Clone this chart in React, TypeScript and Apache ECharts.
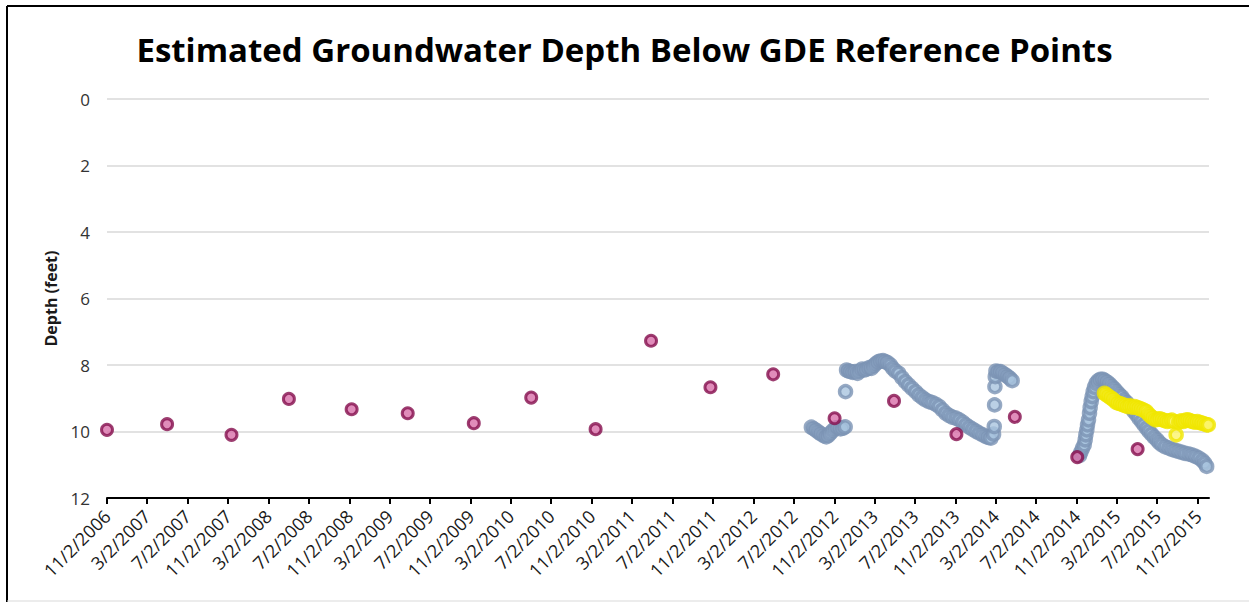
import React, { useEffect, useRef } from "react";
import * as echarts from "echarts";

const titleText = "Estimated Groundwater Depth Below GDE Reference Points";
const yAxisName = "Depth (feet)";

const tickLabels = [
  "11/2/2006", "3/2/2007", "7/2/2007", "11/2/2007", "3/2/2008", "7/2/2008", "11/2/2008",
  "3/2/2009", "7/2/2009", "11/2/2009", "3/2/2010", "7/2/2010", "11/2/2010",
  "3/2/2011", "7/2/2011", "11/2/2011", "3/2/2012", "7/2/2012", "11/2/2012",
  "3/2/2013", "7/2/2013", "11/2/2013", "3/2/2014", "7/2/2014", "11/2/2014",
  "3/2/2015", "7/2/2015", "11/2/2015",
];
const axisStart = "11/2/2006";
const axisEnd = "12/5/2015";

// Semi-annual manual measurements (magenta)
const sampleDates = [
  "11/2/2006", "5/2/2007", "11/12/2007", "5/3/2008", "11/8/2008", "4/26/2009",
  "11/11/2009", "5/3/2010", "11/13/2010", "4/29/2011", "10/25/2011", "5/1/2012",
  "11/2/2012", "4/30/2013", "11/4/2013", "4/29/2014", "11/3/2014", "5/4/2015",
];
const sampleDepths = [
  9.95, 9.78, 10.1, 9.02, 9.33, 9.45,
  9.75, 8.98, 9.93, 7.27, 8.67, 8.28,
  9.6, 9.08, 10.08, 9.56, 10.77, 10.53,
];

// Logger readings (blue-grey)
const loggerDates = [
  "8/24/2012", "9/1/2012", "9/8/2012", "9/16/2012", "9/23/2012", "10/1/2012", "10/8/2012",
  "10/14/2012", "10/20/2012", "10/28/2012", "11/5/2012", "11/12/2012", "11/20/2012",
  "11/27/2012", "12/4/2012", "12/5/2012",
  "12/8/2012", "12/14/2012", "12/20/2012", "12/27/2012", "1/3/2013", "1/10/2013",
  "1/17/2013", "1/24/2013", "1/31/2013", "2/7/2013", "2/14/2013", "2/21/2013",
  "2/28/2013", "3/7/2013", "3/14/2013", "3/21/2013", "3/28/2013", "4/4/2013",
  "4/11/2013", "4/19/2013", "4/26/2013", "5/4/2013", "5/14/2013", "5/24/2013",
  "6/3/2013", "6/13/2013", "6/23/2013", "7/4/2013", "7/14/2013", "7/24/2013",
  "8/3/2013", "8/13/2013", "8/23/2013", "9/3/2013", "9/13/2013", "9/23/2013",
  "10/3/2013", "10/13/2013", "10/23/2013", "11/3/2013", "11/13/2013", "11/23/2013",
  "12/3/2013", "12/13/2013", "12/23/2013", "1/2/2014", "1/12/2014", "1/22/2014",
  "2/1/2014", "2/9/2014", "2/16/2014", "2/24/2014", "2/26/2014", "2/27/2014",
  "2/28/2014", "3/1/2014", "3/3/2014", "3/10/2014", "3/17/2014", "3/24/2014",
  "4/1/2014", "4/8/2014", "4/14/2014", "4/21/2014",
  "11/10/2014", "11/14/2014", "11/19/2014", "11/24/2014", "11/27/2014", "11/29/2014",
  "12/2/2014", "12/4/2014", "12/7/2014", "12/10/2014", "12/12/2014", "12/15/2014",
  "12/18/2014", "12/21/2014", "12/25/2014", "12/30/2014", "1/5/2015", "1/12/2015",
  "1/19/2015", "1/26/2015", "2/2/2015", "2/9/2015", "2/16/2015", "2/23/2015",
  "3/2/2015", "3/9/2015", "3/17/2015", "3/24/2015", "4/1/2015", "4/8/2015",
  "4/16/2015", "4/23/2015", "5/1/2015", "5/8/2015", "5/16/2015", "5/23/2015",
  "5/31/2015", "6/7/2015", "6/15/2015", "6/23/2015", "7/1/2015", "7/8/2015",
  "7/16/2015", "7/26/2015", "8/6/2015", "8/16/2015", "8/26/2015", "9/5/2015",
  "9/15/2015", "9/25/2015", "10/6/2015", "10/16/2015", "10/26/2015", "11/5/2015",
  "11/15/2015", "11/22/2015", "11/28/2015",
];
const loggerDepths = [
  9.87, 9.92, 9.97, 10.03, 10.08, 10.13, 10.16,
  10.12, 10.05, 9.97, 9.9, 9.88, 9.92,
  9.9, 9.86, 8.8,
  8.15, 8.18, 8.2, 8.22, 8.2, 8.25,
  8.18, 8.12, 8.15, 8.12, 8.08, 8.1,
  8.02, 7.95, 7.9, 7.88, 7.87, 7.9,
  7.93, 8.0, 8.1, 8.18, 8.25, 8.38,
  8.5, 8.6, 8.7, 8.8, 8.9, 8.98,
  9.05, 9.1, 9.13, 9.18, 9.25, 9.35,
  9.45, 9.52, 9.57, 9.6, 9.65, 9.72,
  9.8, 9.87, 9.93, 9.99, 10.05, 10.1,
  10.15, 10.18, 10.2, 10.08, 9.85, 9.2,
  8.65, 8.35, 8.18, 8.2, 8.2, 8.25,
  8.3, 8.35, 8.4, 8.47,
  10.72, 10.62, 10.5, 10.4, 10.25, 10.1,
  9.95, 9.8, 9.65, 9.45, 9.28, 9.1,
  8.95, 8.8, 8.67, 8.55, 8.47, 8.43,
  8.43, 8.47, 8.52, 8.58, 8.65, 8.72,
  8.8, 8.88, 8.95, 9.05, 9.13, 9.22,
  9.3, 9.4, 9.5, 9.6, 9.7, 9.8,
  9.9, 9.99, 10.08, 10.17, 10.25, 10.33,
  10.4, 10.46, 10.5, 10.54, 10.57, 10.6,
  10.63, 10.66, 10.68, 10.71, 10.75, 10.8,
  10.87, 10.95, 11.05,
];

// Second logger (yellow)
const yellowDates = [
  "1/24/2015", "1/31/2015", "2/7/2015", "2/14/2015", "2/21/2015", "2/28/2015",
  "3/7/2015", "3/14/2015", "3/21/2015", "3/28/2015", "4/4/2015", "4/11/2015",
  "4/18/2015", "4/25/2015", "5/2/2015", "5/9/2015", "5/16/2015", "5/23/2015",
  "5/30/2015", "6/6/2015", "6/13/2015", "6/20/2015", "6/27/2015", "7/4/2015",
  "7/11/2015", "7/18/2015", "7/25/2015", "8/1/2015", "8/8/2015", "8/15/2015",
  "8/22/2015", "8/28/2015", "9/5/2015", "9/12/2015", "9/19/2015", "9/26/2015",
  "10/3/2015", "10/10/2015", "10/17/2015", "10/24/2015", "10/31/2015", "11/7/2015",
  "11/14/2015", "11/21/2015", "11/28/2015", "12/3/2015",
];
const yellowDepths = [
  8.85, 8.9, 8.95, 9.0, 9.05, 9.12,
  9.15, 9.17, 9.2, 9.22, 9.25, 9.23,
  9.27, 9.25, 9.28, 9.3, 9.33, 9.36,
  9.4, 9.48, 9.55, 9.6, 9.65, 9.63,
  9.62, 9.65, 9.67, 9.7, 9.68, 9.66,
  9.7, 10.1, 9.72, 9.68, 9.7, 9.66,
  9.65, 9.68, 9.7, 9.72, 9.7, 9.73,
  9.75, 9.77, 9.8, 9.8,
];

function toTime(s: string): number {
  const [m, d, y] = s.split("/").map(Number);
  return Date.UTC(y, m - 1, d);
}
function fmt(v: number): string {
  const d = new Date(v);
  return `${d.getUTCMonth() + 1}/${d.getUTCDate()}/${d.getUTCFullYear()}`;
}
function pairs(dates: string[], vals: number[]) {
  return dates.map((d, i) => [toTime(d), vals[i]]);
}

const FONT = "'Open Sans', sans-serif";

export default function App() {
  const ref = useRef<HTMLDivElement>(null);
  useEffect(() => {
    document.body.style.margin = "0";
    if (!ref.current) return;
    const chart = echarts.init(ref.current, undefined, { renderer: "svg" });
    const ticks = tickLabels.map(toTime);
    chart.setOption({
      animation: false,
      backgroundColor: "#ffffff",
      title: {
        text: titleText,
        left: "center",
        top: 28,
        textStyle: { fontFamily: FONT, fontSize: 33, fontWeight: "bold", color: "#000000" },
      },
      graphic: [
        { type: "line", shape: { x1: 7, y1: 6, x2: 7, y2: 602 }, style: { stroke: "#000", lineWidth: 2 } },
        { type: "line", shape: { x1: 7, y1: 6, x2: 1249, y2: 6 }, style: { stroke: "#000", lineWidth: 2 } },
        { type: "line", shape: { x1: 7, y1: 601, x2: 1249, y2: 601 }, style: { stroke: "#d9d9d9", lineWidth: 1 } },
      ],
      grid: { left: 107, right: 40, top: 99, bottom: 104, containLabel: false },
      xAxis: {
        type: "value",
        min: toTime(axisStart),
        max: toTime(axisEnd),
        splitLine: { show: false },
        axisLine: { onZero: false, lineStyle: { color: "#000000", width: 2 } },
        axisTick: { show: true, length: 6, customValues: ticks, lineStyle: { color: "#000000", width: 2 } },
        axisLabel: {
          customValues: ticks,
          formatter: (v: number) => fmt(v),
          rotate: 45,
          margin: 15,
          fontFamily: FONT,
          fontSize: 18,
          color: "#1a1a1a",
        },
      },
      yAxis: {
        type: "value",
        inverse: true,
        min: 0,
        max: 12,
        interval: 2,
        name: yAxisName,
        nameLocation: "middle",
        nameGap: 48,
        nameRotate: 90,
        nameTextStyle: { fontFamily: FONT, fontSize: 16, fontWeight: "bold", color: "#1a1a1a" },
        axisLine: { show: false },
        axisTick: { show: false },
        axisLabel: { fontFamily: FONT, fontSize: 17, color: "#333333", margin: 17 },
        splitLine: { lineStyle: { color: "#d9d9d9", width: 1.5 } },
      },
      series: [
        {
          type: "scatter",
          name: "Logger",
          data: pairs(loggerDates, loggerDepths),
          symbol: "circle",
          symbolSize: 12,
          itemStyle: { color: "#a9c4de", borderColor: "#7c93b4", borderWidth: 3.5 },
        },
        {
          type: "scatter",
          name: "Logger 2",
          data: pairs(yellowDates, yellowDepths),
          symbol: "circle",
          symbolSize: 12,
          itemStyle: { color: "#fbf46a", borderColor: "#f0e600", borderWidth: 3.5 },
        },
        {
          type: "scatter",
          name: "Manual",
          data: pairs(sampleDates, sampleDepths),
          symbol: "circle",
          symbolSize: 11,
          itemStyle: { color: "#d86fa9", borderColor: "#840f4d", borderWidth: 3 },
        },
      ],
    });
    return () => chart.dispose();
  }, []);
  return <div ref={ref} style={{ width: 1249, height: 602 }} />;
}
